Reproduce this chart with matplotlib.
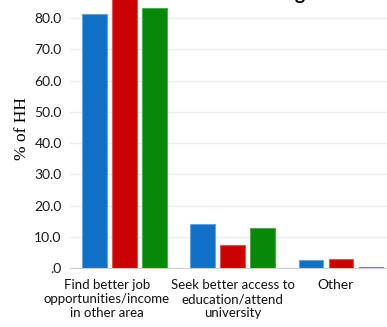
import numpy as np
import matplotlib
matplotlib.use("Agg")
import matplotlib.pyplot as plt

# --- data ---
categories = ["Find better job\nopportunities/income\nin other area",
              "Seek better access to\neducation/attend\nuniversity",
              "Other"]
blue_vals = [81.3, 14.0, 2.6]
red_vals = [88.0, 7.3, 3.0]
green_vals = [83.3, 12.9, 0.4]
yticks = [0, 10, 20, 30, 40, 50, 60, 70, 80]
ytick_labels = [".0", "10.0", "20.0", "30.0", "40.0", "50.0", "60.0", "70.0", "80.0"]

colors = ["#0F70C8", "#CC0202", "#078807"]
edges = ["#5AA6E6", "#E85050", "#45B045"]

fig = plt.figure(figsize=(3.87, 3.27), dpi=100)
ax = fig.add_axes([0.181, 0.180, 0.819, 0.820])

x = np.arange(len(categories))
step = 0.2765
width = 0.23
for i, vals in enumerate([blue_vals, red_vals, green_vals]):
    ax.bar(x + (i - 1) * step, vals, width, color=colors[i],
           edgecolor=edges[i], linewidth=0.8, zorder=3)

ax.set_xlim(-0.498, 2.424)
ax.set_ylim(0, 85.8)
ax.set_yticks(yticks)
ax.set_yticklabels(ytick_labels, fontsize=10, family="Lato", color="#1A1A1A")
ax.set_xticks(x)
ax.set_xticklabels([])
ax.tick_params(length=0, pad=6)
ax.grid(axis="y", color="#ECECEC", linewidth=1, zorder=0)
for s in ["top", "right", "left"]:
    ax.spines[s].set_visible(False)
ax.spines["bottom"].set_color("#D0D0D0")

# category labels under the groups (the first one sits a bit to the left)
label_shift = [-0.157, 0.0, -0.055]
for xi, lab, dx in zip(x, categories, label_shift):
    fs = 10 if lab == "Other" else 9.5
    ax.text(xi + dx, -3.6, lab, ha="center", va="top", fontsize=fs,
            family="Lato", linespacing=1.2, color="#111111",
            transform=ax.transData, clip_on=False)

ax.set_ylabel("% of HH", family="Liberation Serif", fontsize=12.5)
ax.yaxis.set_label_coords(-0.125, 0.52)

# title sits mostly above the canvas; only its descender shows
fig.text(0.79, 1.0, "Reasons for leaving", ha="right", va="baseline",
         fontsize=14, fontweight="bold", family="Lato")

fig.savefig("out.png", dpi=100)
